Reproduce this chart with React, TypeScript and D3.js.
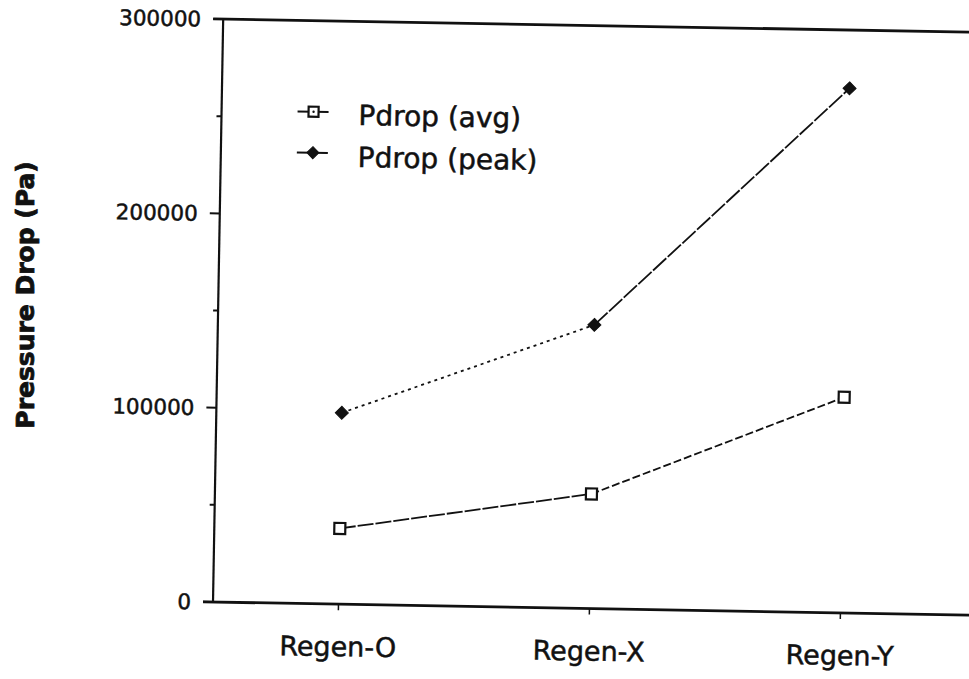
import React from "react";
import * as d3 from "d3";

const categories = ["Regen-O", "Regen-X", "Regen-Y"];
const avgValues = [39000, 59000, 111000];
const peakValues = [98500, 146000, 270000];
const yTicks = [0, 100000, 200000, 300000];
const yMinorTicks = [50000, 150000, 250000];
const legendLabels = ["Pdrop (avg)", "Pdrop (peak)"];
const yTitle = "Pressure Drop (Pa)";

const W = 969;
const H = 679;
const X0 = 213;
const Y0 = 602;
const YTOP = 19;
const XEND = 985;
const INK = "#111";

export default function App() {
  const y = d3.scaleLinear().domain([0, 300000]).range([Y0, YTOP]);
  const x = d3.scalePoint<string>().domain(categories).range([X0, 966]).padding(0.5);
  const line = d3
    .line<[string, number]>()
    .x((d) => x(d[0]) as number)
    .y((d) => y(d[1]));

  const segs = (vals: number[]) =>
    vals.slice(0, -1).map((v, i) => [
      [categories[i], v],
      [categories[i + 1], vals[i + 1]],
    ] as [string, number][]);

  const avgSegs = segs(avgValues);
  const peakSegs = segs(peakValues);
  const avgDash = ["16,2", "8,3"];
  const peakDash = ["3,4", "18,2"];

  const square = (cx: number, cy: number, s: number, key: any, dot = false) => (
    <g key={key}>
      <rect x={cx - s / 2} y={cy - s / 2} width={s} height={s} fill="#fff" stroke={INK} strokeWidth={2.2} />
      {dot && <circle cx={cx} cy={cy} r={1.2} fill={INK} />}
    </g>
  );
  const diamond = (cx: number, cy: number, s: number, key: any) => (
    <path
      key={key}
      d={`M${cx},${cy - s / 2}L${cx + s / 2},${cy}L${cx},${cy + s / 2}L${cx - s / 2},${cy}Z`}
      fill={INK}
      stroke={INK}
      strokeWidth={1}
    />
  );

  const txt = { fill: INK, stroke: INK, strokeWidth: 0.5 };

  return (
    <svg
      width={W}
      height={H}
      style={{ position: "absolute", left: 0, top: 0, background: "#fff" }}
      fontFamily="DejaVu Sans"
    >
      <rect width={W} height={H} fill="#fff" />
      <text
        transform={`translate(34,295) rotate(-90)`}
        textAnchor="middle"
        fontWeight="bold"
        fontSize={25}
        {...txt}
        strokeWidth={0.8}
      >
        {yTitle}
      </text>
      <g transform={`rotate(1 ${X0} ${Y0})`}>
        {/* frame */}
        <line x1={X0} y1={YTOP} x2={X0} y2={Y0} stroke={INK} strokeWidth={2.2} />
        <line x1={X0 - 10} y1={Y0} x2={XEND} y2={Y0} stroke={INK} strokeWidth={2.8} />
        <line x1={X0 - 10} y1={YTOP} x2={XEND} y2={YTOP} stroke={INK} strokeWidth={2.8} />
        {/* y ticks */}
        {yTicks.map((t) => (
          <g key={t}>
            <line x1={X0 - 10} x2={X0} y1={y(t)} y2={y(t)} stroke={INK} strokeWidth={2} />
            <text x={X0 - 22} y={y(t)} dy="0.36em" textAnchor="end" fontSize={21.5} {...txt}>
              {t}
            </text>
          </g>
        ))}
        {yMinorTicks.map((t) => (
          <line key={t} x1={X0 - 5} x2={X0} y1={y(t)} y2={y(t)} stroke={INK} strokeWidth={2} />
        ))}
        {/* x ticks */}
        {categories.map((c) => (
          <g key={c}>
            <line x1={x(c)} x2={x(c)} y1={Y0} y2={Y0 + 6} stroke={INK} strokeWidth={1.5} />
            <text x={x(c)} y={Y0 + 52} textAnchor="middle" fontSize={27} {...txt}>
              {c}
            </text>
          </g>
        ))}
        {/* lines */}
        {avgSegs.map((s, i) => (
          <path key={"a" + i} d={line(s) as string} fill="none" stroke={INK} strokeWidth={1.8} strokeDasharray={avgDash[i]} />
        ))}
        {peakSegs.map((s, i) => (
          <path key={"p" + i} d={line(s) as string} fill="none" stroke={INK} strokeWidth={1.8} strokeDasharray={peakDash[i]} />
        ))}
        {categories.map((c, i) => square(x(c) as number, y(avgValues[i]), 11, "s" + i))}
        {categories.map((c, i) => diamond(x(c) as number, y(peakValues[i]), 13, "d" + i))}
        {/* legend */}
        <line x1={289} x2={320} y1={110} y2={110} stroke={INK} strokeWidth={2} />
        {square(305, 110, 10, "ls", true)}
        <text x={350} y={122.5} fontSize={28} {...txt}>
          {legendLabels[0]}
        </text>
        <line x1={289} x2={320} y1={151} y2={151} stroke={INK} strokeWidth={2} />
        {diamond(305, 151, 12, "ld")}
        <text x={350} y={164.5} fontSize={28} {...txt}>
          {legendLabels[1]}
        </text>
      </g>
    </svg>
  );
}
